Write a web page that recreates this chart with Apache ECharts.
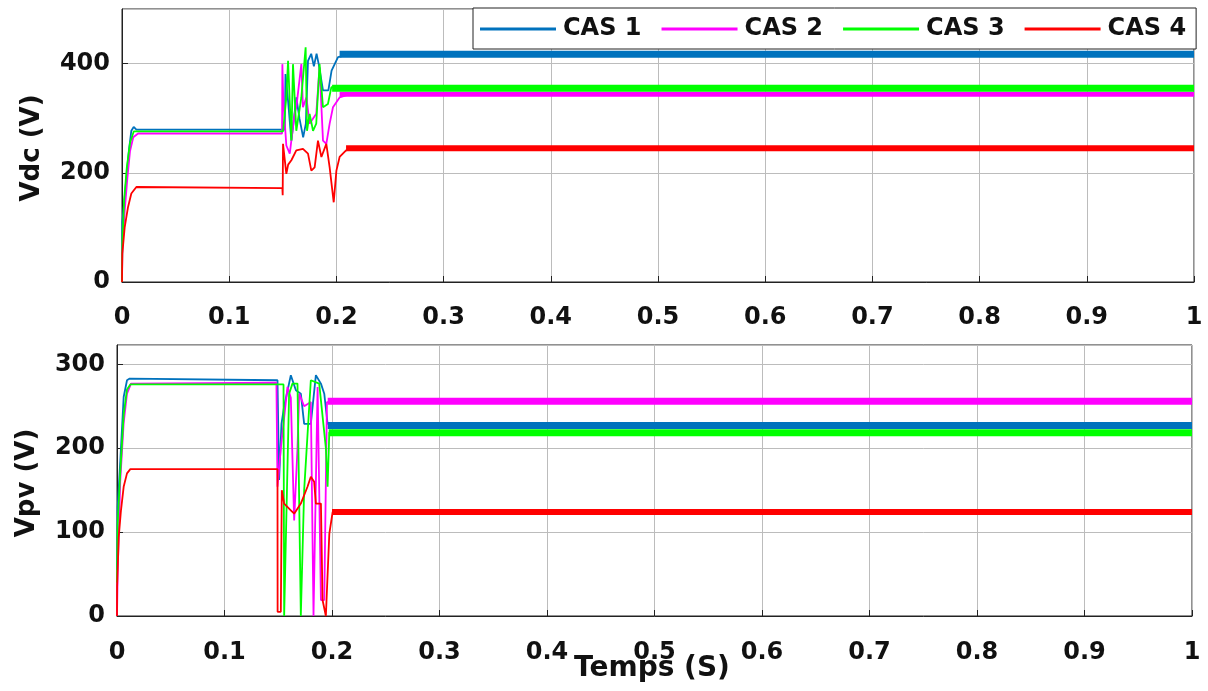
<!DOCTYPE html>
<html>
<head>
<meta charset="utf-8">
<script src="https://cdn.jsdelivr.net/npm/echarts@6/dist/echarts.min.js"></script>
<style>
html,body{margin:0;padding:0;background:#fff;}
#chart{width:1208px;height:691px;}
</style>
</head>
<body>
<div id="chart"></div>
<script>
// ---------- DATA ----------
const caseNames = ['CAS 1', 'CAS 2', 'CAS 3', 'CAS 4'];
const xTicks = [0, 0.1, 0.2, 0.3, 0.4, 0.5, 0.6, 0.7, 0.8, 0.9, 1];

// Vdc (V) vs time (s) : [t, V]
const vdcCas1 = [[0,0],[0.0003,110],[0.0025,155],[0.0047,205],[0.0065,242],[0.0087,277],[0.0109,284],[0.0134,279],[0.1496,279],[0.1518,279],[0.1525,381],[0.155,330],[0.158,259],[0.1605,300],[0.1626,338],[0.1655,300],[0.169,265],[0.1715,290],[0.1735,405],[0.1765,418],[0.179,395],[0.1815,418],[0.1835,399],[0.1875,351],[0.1925,351],[0.1955,387],[0.2015,412],[0.2125,417],[1,417]];
const vdcCas2 = [[0,0],[0.0003,60],[0.0025,130],[0.005,190],[0.0075,240],[0.0105,265],[0.015,272],[0.1493,272],[0.1496,399],[0.1505,330],[0.1533,250],[0.1565,235],[0.161,308],[0.1626,320],[0.1673,399],[0.1688,320],[0.172,338],[0.175,290],[0.1812,308],[0.1843,393],[0.1875,259],[0.1906,253],[0.1937,290],[0.1968,320],[0.203,338],[0.2125,344],[1,344]];
const vdcCas3 = [[0,0],[0.0003,70],[0.002,150],[0.0045,210],[0.0075,255],[0.011,276],[0.1502,276],[0.1533,338],[0.1549,405],[0.158,259],[0.1595,399],[0.1626,277],[0.1673,338],[0.1713,430],[0.1726,277],[0.175,308],[0.1782,277],[0.1812,290],[0.1843,399],[0.1875,320],[0.1921,326],[0.1953,357],[1,355]];
const vdcCas4 = [[0,0],[0.0003,52],[0.0025,100],[0.0056,137],[0.0087,162],[0.0134,174],[0.015,172],[0.1496,172],[0.1499,159],[0.1502,253],[0.1533,198],[0.155,215],[0.158,223],[0.1626,241],[0.1688,244],[0.1735,235],[0.1766,204],[0.1797,210],[0.1828,259],[0.186,229],[0.1906,253],[0.1937,210],[0.1975,146],[0.2,204],[0.203,229],[0.209,241],[0.2186,245],[1,245]];
const vdcSteady = [417, 344, 355, 245];
const vdcSteadyStart = [0.203, 0.203, 0.196, 0.209];

// Vpv (V) vs time (s) : [t, V]
const vpvCas1 = [[0,55],[0.0006,130],[0.0031,186],[0.0062,261],[0.0093,281],[0.0118,283],[0.0124,281],[0.1493,281],[0.1508,162],[0.153,229],[0.1555,250],[0.1617,287],[0.1664,269],[0.171,265],[0.1741,229],[0.1803,229],[0.185,287],[0.1897,277],[0.1928,265],[0.1959,229],[1,227]];
const vpvCas2 = [[0,0],[0.0006,50],[0.003,160],[0.0062,230],[0.0093,265],[0.013,277],[0.1483,278],[0.1493,154],[0.1524,200],[0.1586,273],[0.1617,260],[0.1648,114],[0.1679,200],[0.1695,265],[0.1741,250],[0.1803,255],[0.1828,0],[0.1866,273],[0.1897,19],[0.1928,19],[0.1953,255],[1,256]];
const vpvCas3 = [[0,40],[0.0006,110],[0.003,170],[0.0062,240],[0.0093,270],[0.0124,276],[0.1549,276],[0.1555,0],[0.1601,265],[0.1632,277],[0.1679,277],[0.171,0],[0.1741,150],[0.1803,281],[0.1881,277],[0.1943,200],[0.1959,154],[0.1975,219],[1,219]];
const vpvCas4 = [[0,0],[0.0001,35],[0.0016,94],[0.0037,126],[0.0062,154],[0.0093,170],[0.0124,175],[0.1493,175],[0.1494,5],[0.1524,5],[0.1533,150],[0.1555,134],[0.1617,126],[0.1648,122],[0.171,134],[0.1772,154],[0.1803,166],[0.1834,160],[0.185,134],[0.1897,134],[0.1912,19],[0.1943,0],[0.1975,98],[0.2006,124],[1,124]];
const vpvSteady = [227, 256, 218.5, 124];
const vpvSteadyStart = [0.196, 0.196, 0.197, 0.2];

// ---------- STYLE ----------
const colors = ['#0072BD', '#FF00FF', '#00FF00', '#FF0000'];
const vdcBand = [7, 5, 7, 6];
const vpvBand = [7, 7, 7, 6];
const FONT = 'DejaVu Sans';

const chart = echarts.init(document.getElementById('chart'), null, {renderer: 'canvas'});

function xAxisCfg(gridIndex, margin) {
  return {
    type: 'value', gridIndex: gridIndex, min: 0, max: 1, interval: 0.1,
    axisLine: {show: true, lineStyle: {color: '#222', width: 1}},
    axisTick: {show: true, inside: true, length: 6, lineStyle: {color: '#222'}},
    axisLabel: {show: true, color: '#111', fontFamily: FONT, fontWeight: 'bold', fontSize: 24, margin: margin,
      formatter: function (v) { return String(+v.toFixed(1)); }},
    splitLine: {show: true, lineStyle: {color: '#bcbcbc', width: 1}}
  };
}
function yAxisCfg(gridIndex, max, interval) {
  return {
    type: 'value', gridIndex: gridIndex, min: 0, max: max, interval: interval,
    axisLine: {show: true, lineStyle: {color: '#222', width: 1}},
    axisTick: {show: true, inside: true, length: 6, lineStyle: {color: '#222'}},
    axisLabel: {show: true, color: '#111', fontFamily: FONT, fontWeight: 'bold', fontSize: 24, margin: 12, showMaxLabel: false},
    splitLine: {show: true, lineStyle: {color: '#bcbcbc', width: 1}}
  };
}

const series = [];
const vdcAll = [vdcCas1, vdcCas2, vdcCas3, vdcCas4];
const vpvAll = [vpvCas1, vpvCas2, vpvCas3, vpvCas4];
for (let i = 0; i < 4; i++) {
  series.push({name: caseNames[i], type: 'line', xAxisIndex: 0, yAxisIndex: 0, data: vdcAll[i],
    showSymbol: false, symbol: 'none', lineStyle: {color: colors[i], width: 1.8}, itemStyle: {color: colors[i]}, z: 2 + i});
  series.push({name: caseNames[i], type: 'line', xAxisIndex: 0, yAxisIndex: 0,
    data: [[vdcSteadyStart[i], vdcSteady[i]], [1, vdcSteady[i]]],
    showSymbol: false, symbol: 'none', lineStyle: {color: colors[i], width: vdcBand[i]}, itemStyle: {color: colors[i]}, z: 2 + i});
  series.push({name: caseNames[i], type: 'line', xAxisIndex: 1, yAxisIndex: 1, data: vpvAll[i],
    showSymbol: false, symbol: 'none', lineStyle: {color: colors[i], width: 1.8}, itemStyle: {color: colors[i]}, z: 2 + i});
  series.push({name: caseNames[i], type: 'line', xAxisIndex: 1, yAxisIndex: 1,
    data: [[vpvSteadyStart[i], vpvSteady[i]], [1, vpvSteady[i]]],
    showSymbol: false, symbol: 'none', lineStyle: {color: colors[i], width: vpvBand[i]}, itemStyle: {color: colors[i]}, z: 2 + i});
}

const option = {
  animation: false,
  backgroundColor: '#fff',
  grid: [
    {left: 122, right: 14, top: 9, height: 273, show: true, borderColor: '#222', borderWidth: 1, backgroundColor: 'transparent'},
    {left: 117, right: 16, top: 345, height: 271, show: true, borderColor: '#222', borderWidth: 1, backgroundColor: 'transparent'}
  ],
  xAxis: [xAxisCfg(0, 24), xAxisCfg(1, 25)],
  yAxis: [yAxisCfg(0, 500, 200), yAxisCfg(1, 323, 100)],
  legend: {
    data: caseNames, left: 473, top: 8, orient: 'horizontal',
    backgroundColor: '#fff', borderColor: '#222', borderWidth: 1, borderRadius: 0,
    padding: [9, 10, 8, 7], itemGap: 20, itemWidth: 76, itemHeight: 3, icon: 'rect',
    selectedMode: false, z: 20,
    textStyle: {fontFamily: FONT, fontWeight: 'bold', fontSize: 24, color: '#111', padding: [0, 0, 0, 2]}
  },
  graphic: [
    {type: 'text', x: 32, y: 148, rotation: Math.PI / 2, z: 30,
      style: {text: 'Vdc (V)', fontFamily: FONT, fontWeight: 'bold', fontSize: 26, fill: '#111', textAlign: 'center', textVerticalAlign: 'middle'}},
    {type: 'text', x: 27, y: 483, rotation: Math.PI / 2, z: 30,
      style: {text: 'Vpv (V)', fontFamily: FONT, fontWeight: 'bold', fontSize: 26, fill: '#111', textAlign: 'center', textVerticalAlign: 'middle'}},
    {type: 'text', x: 652, y: 669, z: 30,
      style: {text: 'Temps (S)', fontFamily: FONT, fontWeight: 'bold', fontSize: 28, fill: '#111', textAlign: 'center', textVerticalAlign: 'middle'}}
  ],
  series: series
};
chart.setOption(option);
</script>
</body>
</html>
